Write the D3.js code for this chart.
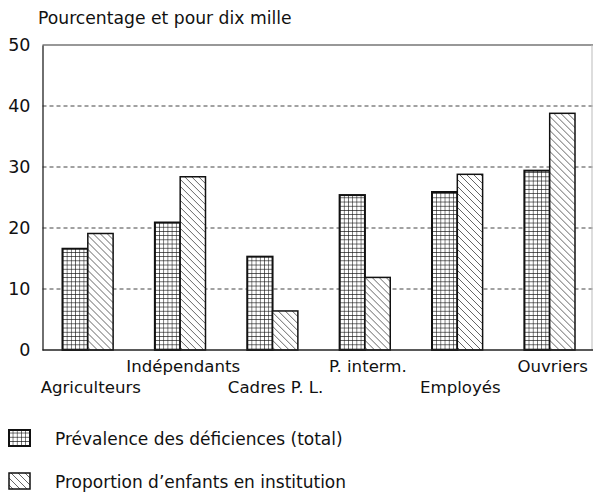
<!DOCTYPE html>
<html>
<head>
<meta charset="utf-8">
<script src="https://cdn.jsdelivr.net/npm/d3@7"></script>
<style>
  html, body { margin: 0; padding: 0; background: #fff; }
  svg { display: block; }
  text { font-family: "DejaVu Sans", sans-serif; font-size: 16.6px; fill: #111; }
</style>
</head>
<body>
<svg id="chart" width="593" height="493"></svg>
<script>
const categories = ["Agriculteurs", "Indépendants", "Cadres P. L.", "P. interm.", "Employés", "Ouvriers"];
const labelRow = [1, 0, 1, 0, 1, 0];
const seriesNames = ["Prévalence des déficiences (total)", "Proportion d’enfants en institution"];
const prevalence = [16.6, 20.9, 15.3, 25.4, 25.9, 29.4];
const institution = [19.1, 28.4, 6.4, 11.9, 28.8, 38.8];
const yTicks = [0, 10, 20, 30, 40, 50];
const yTitle = "Pourcentage et pour dix mille";

const svg = d3.select("#chart");
const margin = { left: 42.5, right: 592, top: 45, bottom: 350 };

const defs = svg.append("defs");
const grid = defs.append("pattern").attr("id", "gridPat")
  .attr("patternUnits", "userSpaceOnUse").attr("width", 4.2).attr("height", 4.2);
grid.append("rect").attr("width", 4.2).attr("height", 4.2).attr("fill", "#fff");
grid.append("path").attr("d", "M0,0 H4.2 M0,0 V4.2").attr("stroke", "#111").attr("stroke-width", 1.1).attr("fill", "none");

const hatch = defs.append("pattern").attr("id", "hatchPat")
  .attr("patternUnits", "userSpaceOnUse").attr("width", 7).attr("height", 7);
hatch.append("rect").attr("width", 7).attr("height", 7).attr("fill", "#fff");
hatch.append("path").attr("d", "M0,0 L7,7 M-1,6 L1,8 M6,-1 L8,1")
  .attr("stroke", "#555").attr("stroke-width", 0.9).attr("fill", "none");

const y = d3.scaleLinear().domain([0, 50]).range([margin.bottom, margin.top]);
const x0 = d3.scaleBand().domain(categories).range([margin.left, 595])
  .paddingInner(0.452).paddingOuter(0.2165);
const x1 = d3.scaleBand().domain([0, 1]).range([0, x0.bandwidth()]);

// dashed gridlines
svg.append("g").selectAll("line").data(yTicks.filter(t => t > 0 && t < 50)).join("line")
  .attr("x1", margin.left).attr("x2", 593)
  .attr("y1", d => y(d)).attr("y2", d => y(d))
  .attr("stroke", "#444").attr("stroke-width", 1).attr("stroke-dasharray", "4,3");

// frame top and right
svg.append("line").attr("x1", margin.left).attr("x2", 593).attr("y1", y(50)).attr("y2", y(50))
  .attr("stroke", "#333").attr("stroke-width", 1.2);
svg.append("line").attr("x1", margin.right).attr("x2", margin.right).attr("y1", y(50)).attr("y2", y(0))
  .attr("stroke", "#bbb").attr("stroke-width", 1);

// y axis
const yAxis = d3.axisLeft(y).tickValues(yTicks).tickSize(0).tickPadding(12);
const ga = svg.append("g").attr("transform", `translate(${margin.left},0)`).call(yAxis);
ga.select(".domain").attr("stroke", "#222").attr("stroke-width", 1.3);
ga.selectAll("text").style("font-family", "DejaVu Sans").style("font-size", "17.5px").attr("fill", "#111");

// bars
const groups = svg.append("g").selectAll("g").data(categories).join("g")
  .attr("transform", d => `translate(${x0(d)},0)`);
groups.append("rect")
  .attr("x", x1(0)).attr("width", x1.bandwidth())
  .attr("y", (d, i) => y(prevalence[i])).attr("height", (d, i) => y(0) - y(prevalence[i]))
  .attr("fill", "url(#gridPat)").attr("stroke", "#111").attr("stroke-width", 2);
groups.append("rect")
  .attr("x", x1(1)).attr("width", x1.bandwidth())
  .attr("y", (d, i) => y(institution[i])).attr("height", (d, i) => y(0) - y(institution[i]))
  .attr("fill", "url(#hatchPat)").attr("stroke", "#111").attr("stroke-width", 1.5);

// baseline
svg.append("line").attr("x1", margin.left).attr("x2", 593).attr("y1", y(0)).attr("y2", y(0))
  .attr("stroke", "#222").attr("stroke-width", 1.3);

// category labels (staggered)
svg.append("g").selectAll("text").data(categories).join("text")
  .attr("x", d => x0(d) + x0.bandwidth() / 2 + 3)
  .attr("y", (d, i) => labelRow[i] ? 393 : 372)
  .attr("text-anchor", "middle")
  .text(d => d);

// y title
svg.append("text").attr("x", 38).attr("y", 24).style("font-size", "17.2px").text(yTitle);

// legend
const legY = [430, 473];
const fills = ["url(#gridPat)", "url(#hatchPat)"];
const sw = [2, 1.5];
seriesNames.forEach((n, i) => {
  svg.append("rect").attr("x", 9).attr("y", legY[i]).attr("width", 21).attr("height", 16)
    .attr("fill", fills[i]).attr("stroke", "#111").attr("stroke-width", sw[i]);
  svg.append("text").attr("x", 55).attr("y", legY[i] + 15).style("font-size", "17px").text(n);
});
</script>
</body>
</html>
